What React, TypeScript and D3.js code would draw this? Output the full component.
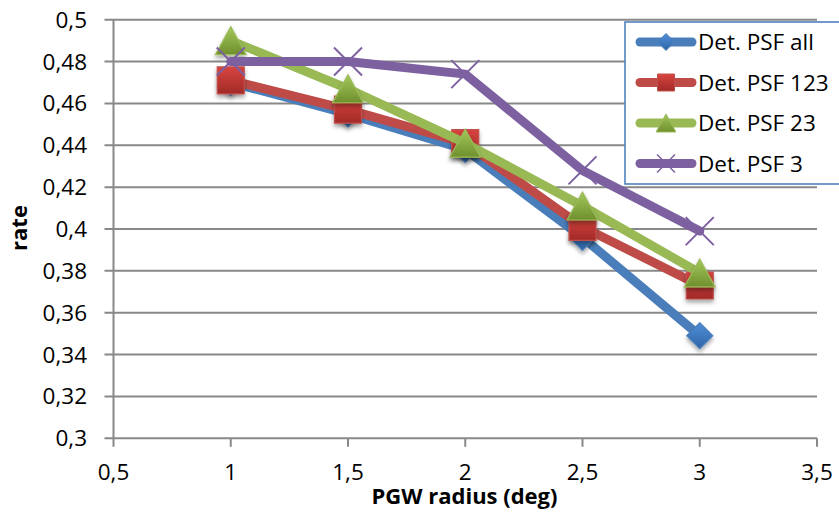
import React from "react";
import * as d3 from "d3";

const xValues = [1, 1.5, 2, 2.5, 3];
const psfAll = [0.47, 0.455, 0.438, 0.396, 0.349];
const psf123 = [0.471, 0.457, 0.441, 0.401, 0.373];
const psf23 = [0.49, 0.467, 0.441, 0.411, 0.379];
const psf3 = [0.48, 0.48, 0.474, 0.428, 0.399];
const seriesNames = ["Det. PSF all", "Det. PSF 123", "Det. PSF 23", "Det. PSF 3"];
const xTicks = [0.5, 1, 1.5, 2, 2.5, 3, 3.5];
const yTicks = [0.3, 0.32, 0.34, 0.36, 0.38, 0.4, 0.42, 0.44, 0.46, 0.48, 0.5];
const xTitle = "PGW radius (deg)";
const yTitle = "rate";

type Marker = "diamond" | "square" | "triangle" | "x";
const seriesStyle: { line: string; top: string; bottom: string; stroke: string; marker: Marker }[] = [
  { line: "#4A7EBB", top: "#4F8FD8", bottom: "#2F64A6", stroke: "#4A7EBB", marker: "diamond" },
  { line: "#BE4B48", top: "#D8443F", bottom: "#A12A27", stroke: "#C0504D", marker: "square" },
  { line: "#98B954", top: "#A4C85A", bottom: "#6F8F2E", stroke: "#9BBB59", marker: "triangle" },
  { line: "#7D60A0", top: "#7D60A0", bottom: "#7D60A0", stroke: "#7D60A0", marker: "x" },
];

const FONT = "'Open Sans', 'Liberation Sans', sans-serif";

function markerPath(type: Marker, s: number): string {
  const h = s / 2;
  if (type === "diamond") return `M0,${-h}L${h},0L0,${h}L${-h},0Z`;
  if (type === "square") return `M${-h},${-h}H${h}V${h}H${-h}Z`;
  if (type === "triangle") return `M0,${-h}L${h * 1.1},${h}L${-h * 1.1},${h}Z`;
  return `M${-h},${-h}L${h},${h}M${h},${-h}L${-h},${h}`;
}

export default function App() {
  const W = 839;
  const H = 520;
  const left = 113.5;
  const right = 817;
  const top = 19.7;
  const bottom = 438.3;
  const x = d3.scaleLinear().domain([0.5, 3.5]).range([left, right]);
  const y = d3.scaleLinear().domain([0.3, 0.5]).range([bottom, top]);
  const data = [psfAll, psf123, psf23, psf3];
  const line = d3
    .line<number>()
    .x((_, i) => x(xValues[i]))
    .y((d) => y(d));
  const fmt = (v: number) => String(+v.toFixed(2)).replace(".", ",");
  const markerSizes = [26, 27, 28, 28];
  const legendSizes = [17, 17, 18, 18];
  const gridColor = "#888888";

  return (
    <div style={{ position: "absolute", left: 0, top: 0 }}>
      <svg width={W} height={H} style={{ display: "block", background: "#fff" }}>
        <defs>
          {seriesStyle.map((s, i) => (
            <linearGradient key={i} id={`g${i}`} x1="0" y1="0" x2="0" y2="1">
              <stop offset="0" stopColor={s.top} />
              <stop offset="1" stopColor={s.bottom} />
            </linearGradient>
          ))}
          <filter id="shadow" x="-50%" y="-50%" width="200%" height="200%">
            <feDropShadow dx="0" dy="3" stdDeviation="2" floodColor="#000" floodOpacity="0.35" />
          </filter>
        </defs>
        {/* gridlines */}
        {yTicks.map((t) => (
          <line key={`gy${t}`} x1={left - 9} x2={right} y1={y(t)} y2={y(t)} stroke={gridColor} strokeWidth={2} />
        ))}
        {/* axes */}
        <line x1={left} x2={left} y1={top} y2={bottom} stroke={gridColor} strokeWidth={2} />
        {xTicks.map((t) => (
          <line key={`tx${t}`} x1={x(t)} x2={x(t)} y1={bottom} y2={bottom + 8.5} stroke={gridColor} strokeWidth={2} />
        ))}
        {/* tick labels */}
        {yTicks.map((t) => (
          <text key={`ly${t}`} x={87} y={y(t) + 8} textAnchor="end" fontFamily={FONT} fontSize={22.5} fill="#000">
            {fmt(t)}
          </text>
        ))}
        {xTicks.map((t) => (
          <text key={`lx${t}`} x={x(t)} y={480} textAnchor="middle" fontFamily={FONT} fontSize={22.5} fill="#000">
            {fmt(t)}
          </text>
        ))}
        {/* axis titles */}
        <text x={464.5} y={504} textAnchor="middle" fontFamily={FONT} fontWeight="bold" fontSize={22} fill="#000">
          {xTitle}
        </text>
        <text
          transform={`translate(27,228) rotate(-90)`}
          textAnchor="middle"
          fontFamily={FONT}
          fontWeight="bold"
          fontSize={22}
          fill="#000"
        >
          {yTitle}
        </text>
        {/* series */}
        {data.map((vals, si) => {
          const st = seriesStyle[si];
          return (
            <g key={`s${si}`}>
              <path d={line(vals) || ""} fill="none" stroke={st.line} strokeWidth={9} strokeLinejoin="round" strokeLinecap="round" />
              {vals.map((v, i) =>
                st.marker === "x" ? (
                  <path
                    key={i}
                    transform={`translate(${x(xValues[i])},${y(v)})`}
                    d={markerPath("x", markerSizes[si])}
                    stroke={st.stroke}
                    strokeWidth={2}
                    fill="none"
                  />
                ) : (
                  <path
                    key={i}
                    transform={`translate(${x(xValues[i])},${y(v)})`}
                    d={markerPath(st.marker, markerSizes[si])}
                    fill={`url(#g${si})`}
                    stroke={st.stroke}
                    strokeWidth={1.2}
                    filter="url(#shadow)"
                  />
                )
              )}
            </g>
          );
        })}
        {/* legend */}
        <rect x={625} y={22} width={230} height={162} fill="#fff" stroke="#4F81BD" strokeWidth={1.6} />
        {seriesNames.map((name, i) => {
          const cy = 42 + i * 40.5;
          const st = seriesStyle[i];
          return (
            <g key={`lg${i}`}>
              <line x1={640} x2={692} y1={cy} y2={cy} stroke={st.line} strokeWidth={9} strokeLinecap="round" />
              <path
                transform={`translate(666,${cy})`}
                d={markerPath(st.marker, legendSizes[i])}
                fill={st.marker === "x" ? "none" : `url(#g${i})`}
                stroke={st.stroke}
                strokeWidth={st.marker === "x" ? 1.5 : 1}
              />
              <text x={698} y={cy + 8} fontFamily={FONT} fontSize={22.5} fill="#000">
                {name}
              </text>
            </g>
          );
        })}
      </svg>
    </div>
  );
}
